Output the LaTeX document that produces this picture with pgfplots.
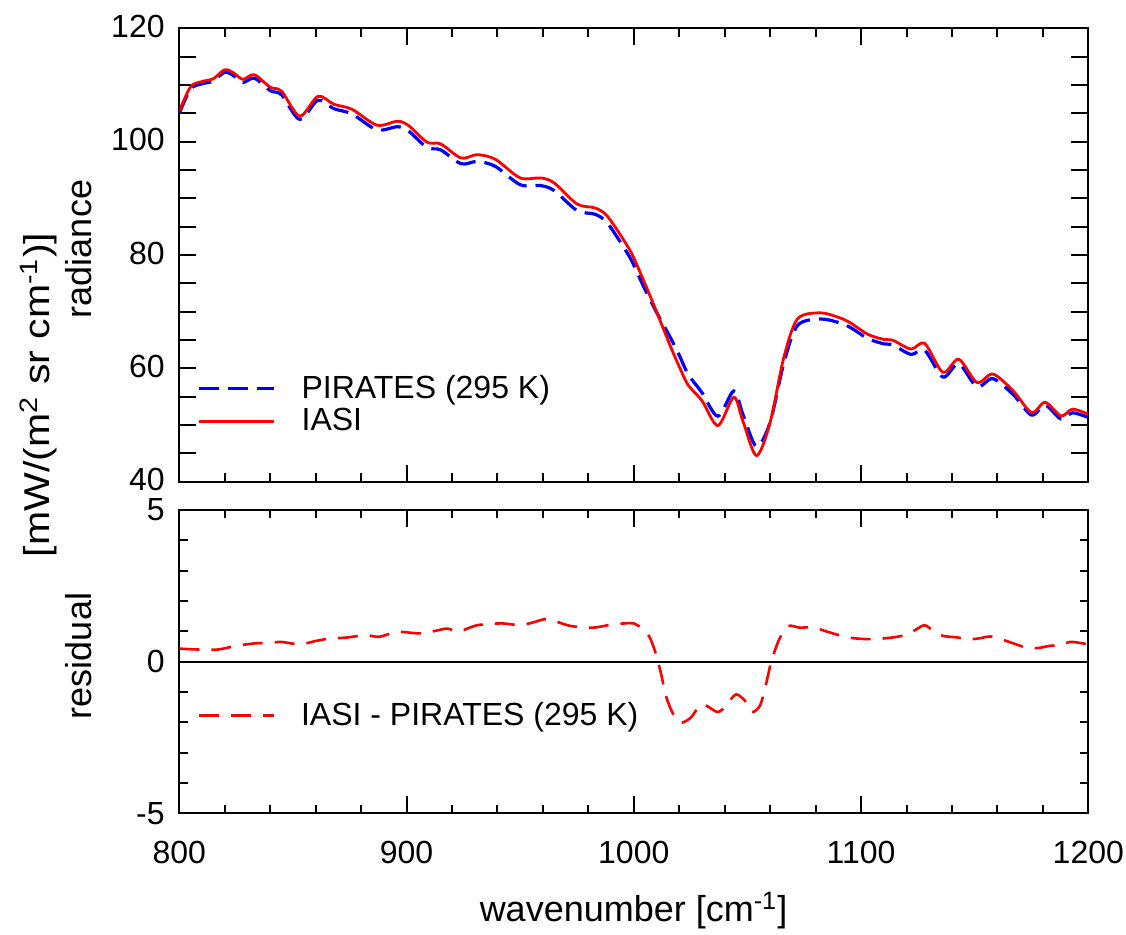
\documentclass[border=0pt]{standalone}
\usepackage{fontspec}
\setmainfont{Liberation Sans}
\usepackage{graphicx}
\usepackage{pgfplots}
\usepackage{pgfplotstable}
\pgfplotsset{compat=1.18}

% radiance spectra: wavenumber, IASI, PIRATES (295 K)
\pgfplotstableread{
x     iasi   pirates
800   105.4  105.0
805   109.7  109.3
810   110.6  110.2
815   111.1  110.7
820   112.7  112.25
824   112.1  111.6
828   111.0  110.43
833   111.8  111.2
840   109.6  109.0
845   108.9  108.25
853   104.5  103.93
861   108.0  107.3
868   106.6  105.82
876   105.7  104.88
887   102.9  102.08
896   103.6  102.63
901   102.8  101.84
909   99.9   98.95
915   99.6   98.55
924   97.1   96.10
931   97.7   96.50
939   96.9   95.65
950   93.6   92.40
959   93.6   92.25
965   92.7   91.35
975   89.0   87.85
983   88.3   87.18
988   87.0   85.82
994   83.6   82.34
999   80.3   79.04
1004  75.8   74.70
1010  70.0   69.90
1016  64.0   65.50
1020  60.3   62.30
1024  57.0   58.90
1030  54.3   55.72
1037  49.9   51.56
1044  54.9   56.00
1048  50.7   51.90
1054  44.6   46.20
1060  50.5   50.50
1066  61.9   60.90
1072  68.7   67.55
1082  69.8   68.70
1090  69.0   68.10
1095  68.1   67.28
1103  66.0   65.26
1110  65.1   64.32
1114  64.95  64.13
1122  63.4   62.45
1128  64.4   63.20
1136  59.3   58.45
1143  61.6   60.80
1151  57.5   56.75
1158  59.0   58.18
1167  56.0   55.35
1175  52.2   51.75
1181  54.0   53.50
1188  51.6   51.05
1193  52.8   52.15
1200  51.9   51.33
}\spectra

% residual IASI - PIRATES
\pgfplotstableread{
x      res
800    0.43
808    0.40
817    0.40
825    0.52
833    0.60
840    0.62
845    0.65
853    0.57
860    0.68
866    0.76
873    0.79
882    0.87
888    0.82
896    0.98
906    0.93
913    1.02
918    1.09
923    0.99
931    1.20
942    1.26
950    1.20
956    1.30
962    1.40
972    1.18
982    1.12
990    1.22
996    1.26
1000   1.26
1004   1.07
1007   0.80
1009.5 0.30
1012  -0.40
1014  -1.10
1017  -1.68
1020.5 -2.01
1025  -1.85
1030  -1.41
1037  -1.66
1041  -1.40
1045  -1.08
1049  -1.30
1052  -1.66
1055.5 -1.45
1058  -0.80
1060.5 0.00
1064   0.74
1068   1.17
1073   1.12
1079   1.12
1089   0.90
1096   0.78
1104   0.74
1112   0.78
1119   0.87
1124   1.05
1128   1.20
1132   1.00
1136   0.85
1142   0.80
1148   0.74
1153   0.78
1157   0.83
1164   0.68
1169   0.55
1173   0.46
1178   0.45
1183   0.52
1188   0.55
1192   0.65
1196   0.62
1200   0.57
}\residual

\pgfplotsset{
  legend image code/.code={\draw[#1] (0pt,0pt) -- (37.5pt,0pt);},
  panel/.style={
    scale only axis,
    width=454.5pt,
    xmin=800, xmax=1200,
    xtick={800,900,...,1200},
    minor x tick num=4,
    major tick length=8.5pt,
    minor tick length=4.25pt,
    axis line style={line width=1pt},
    every tick/.style={black, line width=1pt},
    tick label style={font=\fontsize{16}{19}\selectfont},
    /pgf/number format/assume math mode=true,
    /pgf/number format/1000 sep={},
    yticklabel style={xshift=-3.8pt},
    legend cell align=left,
  },
}

\begin{document}
\begin{tikzpicture}
\useasboundingbox (0,0) rectangle (563pt,467.5pt);

% upper panel: radiance
\begin{axis}[panel,
  at={(89.65pt,226.65pt)}, anchor=south west,
  height=226.7pt,
  ymin=40, ymax=120,
  ytick={40,60,...,120},
  extra y ticks={45,50,55,65,70,75,85,90,95,105,110,115},
  extra y tick labels={},
  xticklabels={},
  yticklabel style={yshift=1pt},
  legend style={draw=none, fill=none, at={(0.0195,0.24)}, anchor=north west,
    inner sep=0pt, row sep=1.5pt, /tikz/column sep=12pt,
    font=\fontsize{16}{19}\selectfont, nodes={inner sep=1pt}},
]
\addplot[blue, line width=1.6pt, dash pattern=on 10pt off 4.5pt, smooth]
  table[x=x, y=pirates] {\spectra};
\addlegendentry{PIRATES (295 K)}
\addplot[red, line width=1.4pt, smooth]
  table[x=x, y=iasi] {\spectra};
\addlegendentry{IASI}
\end{axis}

% lower panel: residual
\begin{axis}[panel,
  at={(89.65pt,60.85pt)}, anchor=south west,
  height=151.65pt,
  ymin=-5, ymax=5,
  ytick={-5,0,5},
  minor y tick num=4,
  xticklabel style={yshift=-10.5pt},
  legend style={draw=none, fill=none, at={(0.0195,0.373)}, anchor=north west,
    inner sep=0pt, /tikz/column sep=12pt,
    font=\fontsize{16}{19}\selectfont, nodes={inner sep=1pt}},
]
\addplot[black, line width=1pt, forget plot] coordinates {(800,0) (1200,0)};
\addplot[red, line width=1.3pt, dash pattern=on 10pt off 6pt, smooth]
  table[x=x, y=res] {\residual};
\addlegendentry{IASI - PIRATES (295 K)}
\end{axis}

% axis titles
\node[rotate=90, anchor=base, font=\fontsize{18}{22}\selectfont] at (46pt,343pt) {radiance};
\node[rotate=90, anchor=base, font=\fontsize{18}{22}\selectfont] at (25pt,270pt)
  {\scalebox{1.14}[1]{[mW/(m\textsuperscript{2} sr cm\textsuperscript{-1})]}};
\node[rotate=90, anchor=base, font=\fontsize{18}{22}\selectfont] at (46pt,139.5pt) {residual};
\node[anchor=base, font=\fontsize{18}{22}\selectfont] at (316.75pt,6.5pt)
  {wavenumber [cm\textsuperscript{-1}]};
\end{tikzpicture}
\end{document}
